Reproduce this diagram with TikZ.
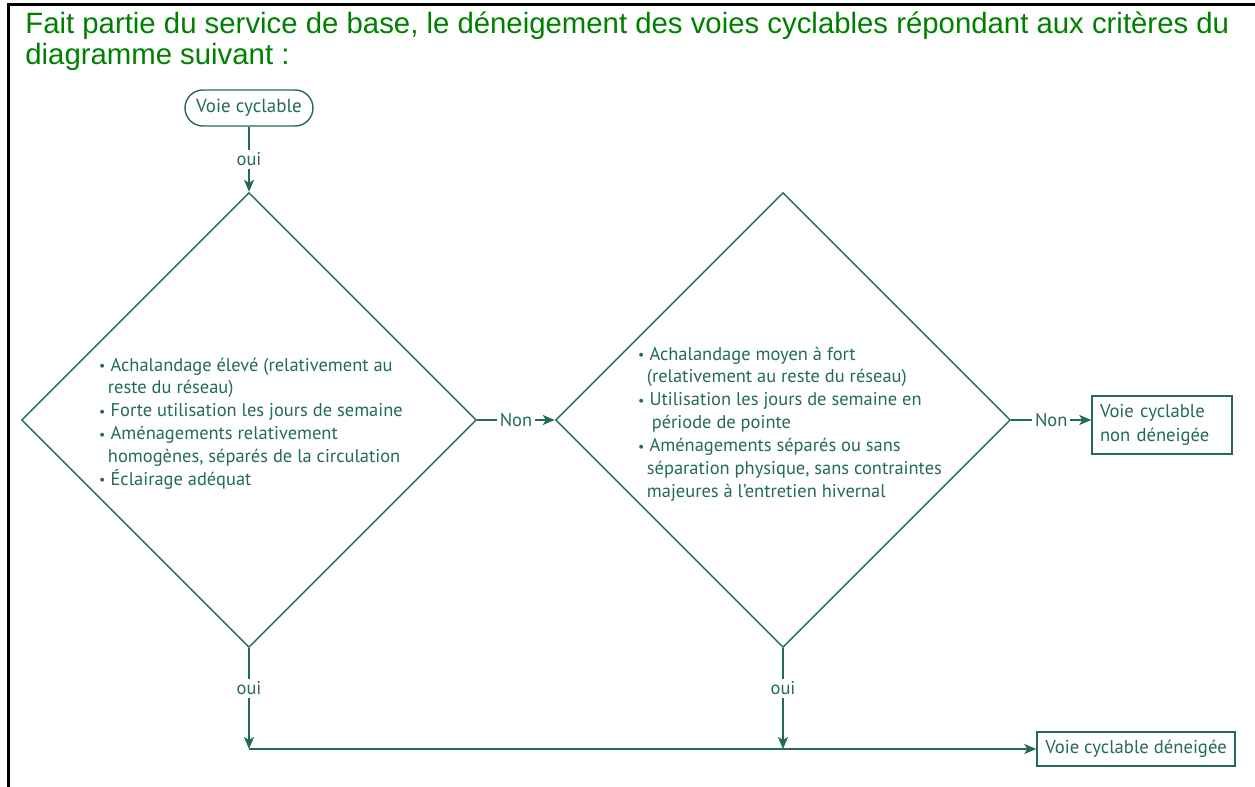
\documentclass[tikz,border=0pt]{standalone}
\usepackage{fontspec}
\setmainfont{Liberation Sans}
\newfontfamily\schema{PT Sans}
\usetikzlibrary{positioning,shapes.geometric,arrows.meta}

\definecolor{vertschema}{RGB}{35,108,78}
\definecolor{vertentete}{RGB}{0,128,0}

% bullet and hanging indent for the criteria lists
\newcommand{\puce}{\makebox[6.5pt][l]{\raisebox{0.05ex}{\scalebox{0.75}{\textbullet}}}}
\newcommand{\retrait}{\hspace*{5pt}}

\begin{document}
\begin{tikzpicture}[
  debut/.style={rectangle, rounded corners=3.6mm, draw=vertschema, line width=0.8pt, minimum width=2.56cm, minimum height=7.2mm, font=\schema\fontsize{10.8}{13}\selectfont, text=vertschema},
  losange/.style={diamond, draw=vertschema, line width=0.8pt, minimum width=9.1cm, minimum height=9.1cm, inner sep=0pt},
  critere/.style={align=left, font=\schema\fontsize{10.5}{13}\selectfont, text=vertschema, inner sep=0pt},
  boite/.style={rectangle, draw=vertschema, line width=0.8pt, font=\schema\fontsize{10.6}{13.5}\selectfont, text=vertschema, align=left},
  lien/.style={draw=vertschema, line width=0.8pt, -{Stealth[length=2.4mm, width=2mm, inset=0.6mm]}},
  etiq/.style={fill=white, font=\schema\fontsize{10.5}{12}\selectfont, text=vertschema, inner sep=1.5pt},
  node distance=2cm
]
\useasboundingbox (0,0) rectangle (25.1,-15.74);

% frame and heading
\draw[line width=1.7pt] (0.17,-15.74) -- (0.17,-0.09) -- (25.1,-0.09);
\node (entete) [anchor=north west, inner sep=0pt, align=left, font=\fontsize{16.7}{17.4}\selectfont, text=vertentete] at (0.5,-0.24)
  {Fait partie du service de base, le déneigement des voies cyclables répondant aux critères du\\diagramme suivant :};

% decision chain
\node (start) [debut] at (4.98,-2.16) {Voie cyclable};
\node (crit1) [losange, below of=start, node distance=6.24cm] {};
\node (crit2) [losange, right of=crit1, node distance=10.68cm] {};
\node (nondeneig) [boite, right of=crit2, node distance=7.58cm, yshift=-1mm, text width=2.48cm, inner sep=1.6mm, minimum height=1.16cm] {Voie cyclable\\non déneigée};
\node (deneig) [boite, below of=nondeneig, node distance=6.48cm, xshift=-5.2mm, minimum width=3.96cm, minimum height=6.8mm] {Voie cyclable déneigée};

% criteria
\node (txt1) [critere] at ([xshift=0.4mm, yshift=-0.7mm]crit1.center) {\puce Achalandage élevé (relativement au\\\retrait reste du réseau)\\\puce Forte utilisation les jours de semaine\\\puce Aménagements relativement\\\retrait homogènes, séparés de la circulation\\\puce Éclairage adéquat};
\node (txt2) [critere] at ([xshift=1.4mm, yshift=-0.8mm]crit2.center) {\puce Achalandage moyen à fort\\\retrait (relativement au reste du réseau)\\\puce Utilisation les jours de semaine en\\\retrait\ période de pointe\\\puce Aménagements séparés ou sans\\\retrait séparation physique, sans contraintes\\\retrait majeures à l’entretien hivernal};

% join points on the bottom line
\coordinate (j1) at (crit1.south |- deneig.west);
\coordinate (j2) at (crit2.south |- deneig.west);

% connections
\draw[lien] (start) -- node[etiq] {oui} (crit1.north);
\draw[lien] (crit1.east) -- node[etiq] {Non} (crit2.west);
\draw[lien] (crit2.east) -- node[etiq] {Non} (crit2.east -| nondeneig.west);
\draw[lien] (crit1.south) -- node[etiq, pos=0.4] {oui} (j1);
\draw[lien] (crit2.south) -- node[etiq, pos=0.4] {oui} (j2);
\draw[lien] (j1) -- (deneig.west);

\end{tikzpicture}
\end{document}
